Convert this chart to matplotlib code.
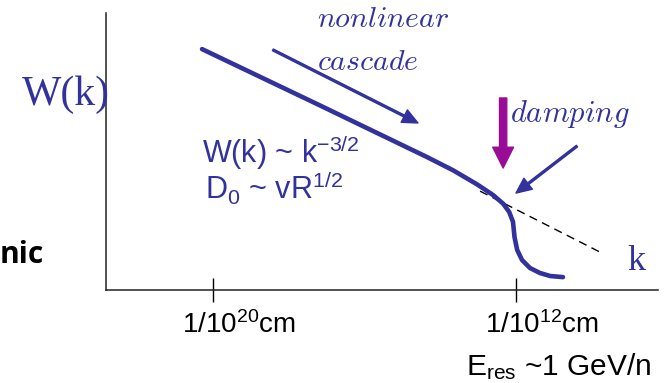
import numpy as np
import matplotlib.pyplot as plt
from matplotlib.transforms import ScaledTranslation

# schematic turbulence spectrum, x = log10 k, y = log W (arbitrary units)
curve_x = [-20.29, -17.17, -14.35, -13.66, -13.03, -12.61, -12.34,
           -12.18, -12.08, -12.04, -11.97, -11.84, -11.63, -11.37, -11.10, -10.76]
curve_y = [6.36, 4.87, 3.51, 3.16, 2.79, 2.51, 2.28,
           2.06, 1.80, 1.40, 1.06, 0.79, 0.58, 0.45, 0.37, 0.34]
dash_x = [-12.95, -9.78]
dash_y = [2.61, 1.00]
tick_pos = [-20, -12]
tick_lab = ['1/10$^{20}$cm', '1/10$^{12}$cm']

navy = '#32329e'
mag = '#990d96'

plt.rcParams['mathtext.fontset'] = 'custom'
plt.rcParams['mathtext.rm'] = 'Liberation Sans'
plt.rcParams['mathtext.it'] = 'Liberation Sans:italic'
plt.rcParams['font.family'] = ['Liberation Sans', 'DejaVu Sans']

fig = plt.figure(figsize=(6.67, 3.83), dpi=100)
ax = fig.add_axes([0.159, 0.2428, 0.8275, 0.7232])
ax.set_xlim(-22.825, -8.251)
ax.set_ylim(0, 7.313)

ax.plot(curve_x, curve_y, color=navy, lw=3.3, solid_capstyle='round', solid_joinstyle='round', zorder=3)
ax.plot(dash_x, dash_y, color='black', lw=1.0, ls=(0, (6, 4)), zorder=2)

# arrows
ax.annotate('', xy=(-14.59, 4.41), xytext=(-18.42, 6.34),
            arrowprops=dict(arrowstyle='simple,head_length=1.1,head_width=1.0,tail_width=0.14',
                            color=navy, shrinkA=0, shrinkB=0, mutation_scale=10))
ax.annotate('', xy=(-12.00, 2.56), xytext=(-10.39, 3.80),
            arrowprops=dict(arrowstyle='simple,head_length=1.1,head_width=1.0,tail_width=0.14',
                            color=navy, shrinkA=0, shrinkB=0, mutation_scale=10))
ax.annotate('', xy=(-12.34, 3.22), xytext=(-12.34, 5.07),
            arrowprops=dict(arrowstyle='simple,head_length=0.75,head_width=0.75,tail_width=0.26',
                            color=mag, shrinkA=0, shrinkB=0, mutation_scale=20))

# labels
ax.text(-17.25, 6.94, r'$\mathit{nonlinear}$', math_fontfamily='cm', fontsize=21.5, color=navy, va='baseline')
ax.text(-17.25, 5.81, r'$\mathit{cascade}$', math_fontfamily='cm', fontsize=21.5, color=navy, va='baseline')
ax.text(-12.16, 4.44, r'$\mathit{damping}$', math_fontfamily='cm', fontsize=22, color=navy, va='baseline')
ax.text(-20.29, 3.35, 'W(k) ~ k$^{-3/2}$', fontsize=22, color=navy, va='baseline')
ax.text(-20.21, 2.38, 'D$_0$ ~ vR$^{1/2}$', fontsize=22, color=navy, va='baseline')
ax.text(-25.04, 4.88, 'W(k)', family='Liberation Serif', fontsize=30, color=navy, va='baseline', clip_on=False)
ax.text(-9.07, 0.53, 'k', family='Liberation Serif', fontsize=26, color=navy, va='baseline', clip_on=False)
ax.text(-8.43, -2.25, 'E$_{\\mathrm{res}}$ ~1 GeV/n', fontsize=21.5, color='black', ha='right', va='baseline', clip_on=False)
fig.text(0.0, 1 - 263 / 383, 'nic', family='Open Sans', fontweight='bold', fontsize=21.5, va='baseline')

ax.set_xticks(tick_pos, tick_lab, fontsize=20)
ax.set_yticks([])
ax.tick_params(axis='x', direction='inout', length=17, width=1, pad=7)
for lab in ax.get_xticklabels():
    lab.set_transform(lab.get_transform() + ScaledTranslation(0.26, 0, fig.dpi_scale_trans))
for s in ['top', 'right']:
    ax.spines[s].set_visible(False)
for s in ['left', 'bottom']:
    ax.spines[s].set_linewidth(1.1)
    ax.spines[s].set_color('#222222')

fig.savefig('out.png', dpi=100)
